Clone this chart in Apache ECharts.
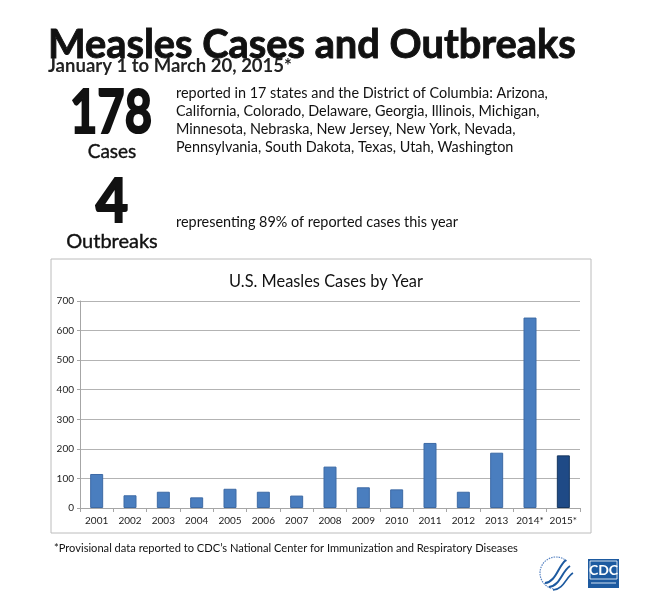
<!DOCTYPE html>
<html>
<head>
<meta charset="utf-8">
<script src="https://cdn.jsdelivr.net/npm/echarts@6/dist/echarts.min.js"></script>
<style>
  html,body{margin:0;padding:0;background:#fff;}
  #chart{width:647px;height:594px;}
</style>
</head>
<body>
<div id="chart"></div>
<script>
// ---- data ----
const years = ['2001','2002','2003','2004','2005','2006','2007','2008','2009','2010','2011','2012','2013','2014*','2015*'];
const cases = [115, 43, 55, 36, 65, 55, 42, 140, 70, 63, 220, 55, 187, 644, 178];
const yTicks = [0, 100, 200, 300, 400, 500, 600, 700];

const headline = 'Measles Cases and Outbreaks';
const dateLine = 'January 1 to March 20, 2015*';
const casesNumber = '178';
const casesLabel = 'Cases';
const outbreakNumber = '4';
const outbreakLabel = 'Outbreaks';
const statesText = [
  'reported in 17 states and the District of Columbia: Arizona,',
  'California, Colorado, Delaware, Georgia, Illinois, Michigan,',
  'Minnesota, Nebraska, New Jersey, New York, Nevada,',
  'Pennsylvania, South Dakota, Texas, Utah, Washington'
];
const outbreakText = 'representing 89% of reported cases this year';
const chartTitle = 'U.S. Measles Cases by Year';
const footnote = '*Provisional data reported to CDC\u2019s National Center for Immunization and Respiratory Diseases';

// ---- helpers ----
const FAM = 'Lato, "Open Sans", sans-serif';
const mctx = document.createElement('canvas').getContext('2d');
function fit(text, weight, target) {
  mctx.font = weight + ' 100px ' + FAM;
  return 100 * target / mctx.measureText(text).width;
}
// distance from the canvas 'middle' line down to the alphabetic baseline
function midToBase(size, weight) {
  mctx.font = weight + ' ' + size.toFixed(2) + 'px ' + FAM;
  mctx.textBaseline = 'middle';
  const m = mctx.measureText('H');
  mctx.textBaseline = 'alphabetic';
  return m.actualBoundingBoxDescent;
}
function txt(text, x, baseline, size, weight, align, color, sx, strokeW) {
  const st = {
    text: text, x: 0, y: 0,
    font: weight + ' ' + size.toFixed(2) + 'px ' + FAM,
    fill: color || '#111', align: align || 'left', verticalAlign: 'middle',
    lineHeight: size
  };
  if (strokeW) { st.stroke = color || '#111'; st.lineWidth = strokeW; }
  return {
    type: 'text', x: x, y: baseline - midToBase(size, weight), silent: true,
    scaleX: sx || 1,
    style: st
  };
}

const titleSize = fit(headline, 'bold', 528);
const dateSize = fit(dateLine, 'bold', 244);
const paraSize = fit(statesText[0], 'normal', 372);
const footSize = fit(footnote, 'normal', 464);
const chartTitleSize = fit(chartTitle, 'normal', 194);
const bigSize = 62;
const bigNatural = 100 * bigSize / fit(casesNumber, 'bold', 100);
const bigScale = 82 / bigNatural;

const graphics = [
  // chart frame
  { type: 'rect', shape: { x: 51, y: 259, width: 540, height: 274 }, style: { fill: 'none', stroke: '#bcbcbc', lineWidth: 1 }, silent: true, z: -1 },
  txt(headline, 48, 58, titleSize, 'bold', 'left', '#111', 1, 0.9),
  txt(dateLine, 48, 72, dateSize, 'bold', 'left', '#222'),
  txt(casesNumber, 111, 133, bigSize, 'bold', 'center', '#111', bigScale, 2.2),
  txt(casesLabel, 112, 158, 19, 'normal', 'center', '#111', 1, 0.4),
  txt(outbreakNumber, 112, 222, bigSize, 'bold', 'center', '#111', 0.9, 2.2),
  txt(outbreakLabel, 112, 248, 20, 'normal', 'center', '#111', 1, 0.4),
  txt(outbreakText, 176, 227, paraSize, 'normal', 'left', '#111'),
  txt(footnote, 54, 552, footSize, 'normal', 'left', '#111'),
  // CDC logo
  { type: 'rect', shape: { x: 588, y: 559, width: 31, height: 29 }, style: { fill: '#1d5aa0' }, silent: true },
  { type: 'rect', shape: { x: 590, y: 561, width: 27, height: 18 }, style: { fill: 'none', stroke: '#ffffff', lineWidth: 0.8 }, silent: true },
  txt('CDC', 603.5, 575, 14, 'bold', 'center', '#ffffff'),
  { type: 'line', shape: { x1: 591, y1: 583, x2: 616, y2: 583 }, style: { stroke: '#cfe0f3', lineWidth: 1 }, silent: true },
  // HHS logo (simplified)
  { type: 'arc', shape: { cx: 556, cy: 573, r: 16, startAngle: Math.PI * 0.55, endAngle: Math.PI * 1.75 }, style: { fill: 'none', stroke: '#5b86c4', lineWidth: 1.2, lineDash: [1.5, 1] }, silent: true },
  { type: 'bezierCurve', shape: { x1: 545, y1: 583, x2: 566, y2: 560, cpx1: 556, cpy1: 582, cpx2: 558, cpy2: 566 }, style: { stroke: '#1d5aa0', lineWidth: 2 }, silent: true },
  { type: 'bezierCurve', shape: { x1: 549, y1: 587, x2: 570, y2: 566, cpx1: 560, cpy1: 586, cpx2: 562, cpy2: 571 }, style: { stroke: '#1d5aa0', lineWidth: 2 }, silent: true },
  { type: 'bezierCurve', shape: { x1: 553, y1: 590, x2: 573, y2: 573, cpx1: 564, cpy1: 589, cpx2: 566, cpy2: 577 }, style: { stroke: '#1d5aa0', lineWidth: 1.6 }, silent: true }
];
statesText.forEach(function (line, i) {
  graphics.push(txt(line, 176, 98 + i * 17.9, paraSize, 'normal', 'left', '#111'));
});

const barColors = cases.map(function (v, i) {
  return i === cases.length - 1
    ? { color: '#1f4a86', borderColor: '#15355f', borderWidth: 1 }
    : { color: '#4a7ebf', borderColor: '#3d6aa5', borderWidth: 1 };
});

const chart = echarts.init(document.getElementById('chart'), null, { renderer: 'canvas' });
chart.setOption({
  animation: false,
  backgroundColor: '#ffffff',
  title: {
    text: chartTitle, left: 321, top: 269, textAlign: 'center',
    textStyle: { fontFamily: FAM, fontWeight: 'normal', fontSize: chartTitleSize, color: '#111' }
  },
  grid: { left: 80, right: 67, top: 301, bottom: 86, containLabel: false },
  xAxis: {
    type: 'category', data: years,
    axisLine: { lineStyle: { color: '#a6a6a6', width: 1 } },
    axisTick: { show: true, length: 4, lineStyle: { color: '#a6a6a6' } },
    axisLabel: { fontFamily: FAM, fontSize: 10, color: '#222', margin: 8, interval: 0 }
  },
  yAxis: {
    type: 'value', min: 0, max: 700, interval: 100,
    axisLine: { show: true, lineStyle: { color: '#a6a6a6', width: 1 } },
    axisTick: { show: true, length: 3, lineStyle: { color: '#a6a6a6' } },
    axisLabel: { fontFamily: FAM, fontSize: 10, color: '#222', margin: 6 },
    splitLine: { show: true, lineStyle: { color: '#b3b3b3', width: 1 } }
  },
  series: [{
    type: 'bar',
    data: cases.map(function (v, i) { return { value: v, itemStyle: barColors[i] }; }),
    barWidth: 13
  }],
  graphic: graphics
});
</script>
</body>
</html>
